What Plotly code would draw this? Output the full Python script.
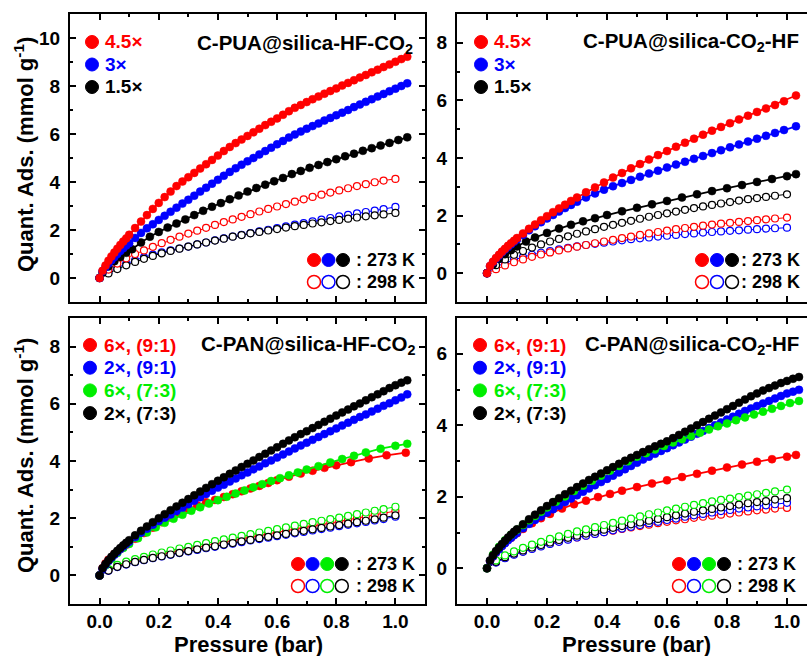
import plotly.graph_objects as go

W, H = 807, 656
FONT = "Liberation Sans"
RED, BLUE, GREEN, BLACK = "#FF0000", "#0000FF", "#00EE00", "#000000"

# ---------------- pressure grids (bar) ----------------
P_DENSE = [0.00, 0.01, 0.02, 0.03, 0.04, 0.05, 0.06, 0.07, 0.08, 0.09, 0.10,
           0.12, 0.14, 0.16, 0.18, 0.20, 0.22, 0.24, 0.26, 0.28, 0.30,
           0.32, 0.34, 0.36, 0.38, 0.40, 0.42, 0.44, 0.46, 0.48, 0.50,
           0.52, 0.54, 0.56, 0.58, 0.60, 0.62, 0.64, 0.66, 0.68, 0.70,
           0.72, 0.74, 0.76, 0.78, 0.80, 0.82, 0.84, 0.86, 0.88, 0.90,
           0.92, 0.94, 0.96, 0.98, 1.00, 1.02, 1.04]
P_OPEN = [0.00, 0.03, 0.06, 0.09, 0.12, 0.15, 0.18, 0.21, 0.24, 0.27, 0.30,
          0.33, 0.36, 0.39, 0.42, 0.45, 0.48, 0.51, 0.54, 0.57, 0.60, 0.63,
          0.66, 0.69, 0.72, 0.75, 0.78, 0.81, 0.84, 0.87, 0.90, 0.93, 0.96, 1.00]
P_MID = [0.00, 0.01, 0.03, 0.05, 0.07, 0.09, 0.11, 0.14, 0.17, 0.20, 0.23, 0.26,
         0.29, 0.32, 0.35, 0.38, 0.41, 0.44, 0.47, 0.50, 0.53, 0.56, 0.59, 0.62,
         0.65, 0.68, 0.71, 0.74, 0.77, 0.80, 0.83, 0.86, 0.89, 0.92, 0.95, 0.98,
         1.01, 1.04]
P_TR = [0.00, 0.01, 0.02, 0.03, 0.04, 0.05, 0.06, 0.07, 0.08, 0.09, 0.10,
        0.12, 0.14, 0.16, 0.18, 0.20, 0.22, 0.24, 0.26, 0.28, 0.30,
        0.33, 0.36, 0.39, 0.42, 0.45, 0.48, 0.51, 0.54, 0.57, 0.60, 0.63, 0.66,
        0.69, 0.72, 0.75, 0.78, 0.81, 0.84, 0.87, 0.90, 0.93, 0.96, 0.99, 1.03]
P_TRK = [0.00, 0.02, 0.04, 0.06, 0.08, 0.10, 0.13, 0.16, 0.20, 0.24, 0.28, 0.32,
         0.36, 0.40, 0.45, 0.50, 0.55, 0.60, 0.65, 0.70, 0.75, 0.80, 0.85, 0.90,
         0.95, 1.00, 1.03]
P_G = [0.00, 0.02, 0.04, 0.06, 0.08, 0.10, 0.13, 0.16, 0.19, 0.22, 0.25, 0.28,
       0.31, 0.34, 0.37, 0.40, 0.43, 0.46, 0.49, 0.52, 0.55, 0.58, 0.61, 0.64,
       0.67, 0.70, 0.74, 0.78, 0.82, 0.86, 0.90, 0.95, 1.00, 1.04]
P_R = [0.00, 0.01, 0.02, 0.03, 0.05, 0.07, 0.09, 0.12, 0.15, 0.18, 0.21, 0.24,
       0.27, 0.30, 0.33, 0.36, 0.39, 0.42, 0.45, 0.48, 0.51, 0.54, 0.57, 0.60,
       0.64, 0.68, 0.72, 0.76, 0.80, 0.85, 0.91, 0.97, 1.035]
P_G2 = [0.00, 0.02, 0.04, 0.06, 0.08, 0.10, 0.12, 0.14, 0.16, 0.18, 0.20, 0.23,
        0.26, 0.29, 0.32, 0.35, 0.38, 0.41, 0.44, 0.47, 0.50, 0.53, 0.56, 0.59,
        0.62, 0.65, 0.68, 0.71, 0.74, 0.77, 0.80, 0.83, 0.86, 0.89, 0.92, 0.95,
        0.98, 1.01, 1.04]
P_R2 = [0.00, 0.01, 0.02, 0.03, 0.04, 0.05, 0.06, 0.08, 0.10, 0.12, 0.15, 0.18,
        0.21, 0.25, 0.29, 0.33, 0.37, 0.41, 0.45, 0.50, 0.55, 0.60, 0.65, 0.70,
        0.75, 0.80, 0.85, 0.90, 0.95, 1.00, 1.03]

# ---------------- C-PUA@silica-HF-CO2 (top left) ----------------
TL_RED_273 = [0.00, 0.30, 0.52, 0.72, 0.90, 1.06, 1.22, 1.38, 1.52, 1.65, 1.80,
              2.08, 2.35, 2.62, 2.88, 3.13, 3.37, 3.60, 3.83, 4.02, 4.20,
              4.38, 4.56, 4.74, 4.92, 5.10, 5.29, 5.46, 5.62, 5.77, 5.92,
              6.07, 6.22, 6.37, 6.51, 6.65, 6.80, 6.95, 7.09, 7.21, 7.33,
              7.45, 7.56, 7.68, 7.79, 7.90, 8.02, 8.13, 8.24, 8.35, 8.46,
              8.57, 8.68, 8.79, 8.90, 9.01, 9.12, 9.22]
TL_BLUE_273 = [0.00, 0.28, 0.45, 0.60, 0.74, 0.87, 1.00, 1.13, 1.24, 1.35, 1.45,
               1.67, 1.88, 2.07, 2.24, 2.42, 2.59, 2.76, 2.93, 3.10, 3.26,
               3.43, 3.60, 3.76, 3.93, 4.09, 4.26, 4.42, 4.57, 4.72, 4.86,
               5.00, 5.15, 5.29, 5.43, 5.57, 5.71, 5.85, 5.98, 6.10, 6.22,
               6.33, 6.44, 6.56, 6.67, 6.78, 6.89, 7.00, 7.12, 7.23, 7.34,
               7.45, 7.56, 7.67, 7.78, 7.89, 8.00, 8.11]
TL_BLACK_273 = [0.00, 0.22, 0.48, 0.70, 0.88, 1.05, 1.20, 1.48, 1.72, 1.92, 2.10,
                2.27, 2.44, 2.62, 2.80, 2.97, 3.12, 3.28, 3.44, 3.60, 3.75, 3.89,
                4.03, 4.17, 4.33, 4.46, 4.59, 4.71, 4.83, 4.95, 5.07, 5.18, 5.30,
                5.41, 5.52, 5.63, 5.75, 5.86]
TL_RED_298 = [0.00, 0.35, 0.60, 0.82, 1.00, 1.15, 1.30, 1.45, 1.59, 1.72, 1.85,
              1.97, 2.09, 2.21, 2.33, 2.44, 2.55, 2.66, 2.77, 2.88, 2.98, 3.08,
              3.18, 3.28, 3.38, 3.47, 3.56, 3.65, 3.74, 3.83, 3.91, 3.99, 4.06, 4.13]
TL_BLUE_298 = [0.00, 0.24, 0.43, 0.60, 0.74, 0.86, 0.97, 1.07, 1.15, 1.23, 1.31,
               1.40, 1.48, 1.57, 1.65, 1.73, 1.80, 1.87, 1.94, 2.01, 2.08, 2.15,
               2.22, 2.29, 2.36, 2.43, 2.50, 2.57, 2.63, 2.69, 2.75, 2.81, 2.87, 2.96]
TL_BLACK_298 = [0.00, 0.19, 0.37, 0.53, 0.67, 0.80, 0.92, 1.03, 1.13, 1.22, 1.31,
                1.40, 1.48, 1.56, 1.64, 1.72, 1.79, 1.86, 1.92, 1.98, 2.04, 2.10,
                2.16, 2.21, 2.27, 2.32, 2.37, 2.42, 2.47, 2.52, 2.57, 2.61, 2.65, 2.71]

# ---------------- C-PUA@silica-CO2-HF (top right) ----------------
TR_RED_273 = [0.00, 0.25, 0.40, 0.53, 0.64, 0.75, 0.85, 0.95, 1.04, 1.13, 1.22,
              1.38, 1.54, 1.69, 1.84, 1.98, 2.12, 2.25, 2.38, 2.51, 2.63,
              2.81, 2.98, 3.15, 3.32, 3.48, 3.64, 3.79, 3.95, 4.10, 4.24, 4.39,
              4.53, 4.67, 4.81, 4.95, 5.08, 5.21, 5.34, 5.47, 5.60, 5.72, 5.84,
              5.97, 6.17]
TR_BLUE_273 = [0.00, 0.24, 0.38, 0.50, 0.61, 0.72, 0.82, 0.91, 1.00, 1.09, 1.17,
               1.33, 1.49, 1.63, 1.77, 1.90, 2.02, 2.14, 2.26, 2.37, 2.48,
               2.63, 2.77, 2.90, 3.02, 3.13, 3.24, 3.35, 3.46, 3.56, 3.67, 3.77,
               3.87, 3.97, 4.07, 4.17, 4.27, 4.37, 4.47, 4.57, 4.67, 4.77, 4.87,
               4.97, 5.10]
TR_BLACK_273 = [0.00, 0.30, 0.50, 0.66, 0.80, 0.93, 1.10, 1.24, 1.40, 1.55, 1.68,
                1.80, 1.91, 2.02, 2.15, 2.27, 2.39, 2.51, 2.63, 2.74, 2.85, 2.95,
                3.06, 3.17, 3.27, 3.37, 3.44]
TR_RED_298 = [0.00, 0.14, 0.27, 0.38, 0.48, 0.57, 0.65, 0.72, 0.79, 0.86, 0.92,
              0.98, 1.04, 1.10, 1.16, 1.22, 1.27, 1.33, 1.38, 1.43, 1.48, 1.53,
              1.57, 1.61, 1.65, 1.69, 1.72, 1.75, 1.78, 1.81, 1.84, 1.87, 1.90, 1.93]
TR_BLUE_298 = [0.00, 0.22, 0.36, 0.47, 0.56, 0.64, 0.71, 0.77, 0.83, 0.88, 0.93,
               0.98, 1.02, 1.06, 1.10, 1.14, 1.18, 1.21, 1.24, 1.27, 1.30, 1.33,
               1.36, 1.38, 1.41, 1.43, 1.45, 1.47, 1.49, 1.51, 1.53, 1.55, 1.56, 1.58]
TR_BLACK_298 = [0.00, 0.28, 0.48, 0.64, 0.77, 0.89, 1.00, 1.10, 1.19, 1.28, 1.37,
                1.45, 1.53, 1.61, 1.68, 1.75, 1.82, 1.89, 1.96, 2.02, 2.08, 2.14,
                2.20, 2.26, 2.32, 2.37, 2.42, 2.47, 2.52, 2.57, 2.61, 2.65, 2.69, 2.74]

# ---------------- C-PAN@silica-HF-CO2 (bottom left) ----------------
BL_RED_273 = [0.00, 0.25, 0.42, 0.55, 0.75, 0.92, 1.07, 1.28, 1.48, 1.67, 1.86,
              2.03, 2.18, 2.32, 2.45, 2.56, 2.64, 2.74, 2.84, 2.94, 3.04, 3.13,
              3.23, 3.33, 3.45, 3.56, 3.66, 3.76, 3.85, 3.96, 4.09, 4.20, 4.29]
BL_BLUE_273 = [0.00, 0.22, 0.37, 0.50, 0.62, 0.72, 0.82, 0.92, 1.01, 1.10, 1.18,
               1.34, 1.49, 1.63, 1.77, 1.90, 2.02, 2.13, 2.25, 2.37, 2.49,
               2.61, 2.73, 2.85, 2.96, 3.07, 3.17, 3.28, 3.39, 3.50, 3.60,
               3.71, 3.81, 3.92, 4.02, 4.12, 4.23, 4.33, 4.44, 4.54, 4.64,
               4.74, 4.84, 4.94, 5.04, 5.14, 5.24, 5.34, 5.44, 5.54, 5.63,
               5.73, 5.83, 5.93, 6.02, 6.12, 6.22, 6.33]
BL_GREEN_273 = [0.00, 0.35, 0.58, 0.78, 0.96, 1.10, 1.30, 1.50, 1.68, 1.84, 1.98,
                2.12, 2.26, 2.38, 2.51, 2.63, 2.75, 2.86, 2.97, 3.08, 3.19, 3.30,
                3.40, 3.50, 3.60, 3.70, 3.82, 3.95, 4.07, 4.18, 4.30, 4.43, 4.53, 4.60]
BL_BLACK_273 = [0.00, 0.25, 0.40, 0.53, 0.65, 0.76, 0.86, 0.96, 1.05, 1.14, 1.23,
                1.40, 1.56, 1.71, 1.86, 2.00, 2.14, 2.28, 2.41, 2.54, 2.67,
                2.80, 2.93, 3.06, 3.19, 3.31, 3.43, 3.55, 3.67, 3.79, 3.90,
                4.02, 4.14, 4.25, 4.37, 4.48, 4.60, 4.72, 4.83, 4.94, 5.04,
                5.15, 5.26, 5.37, 5.48, 5.59, 5.70, 5.80, 5.91, 6.01, 6.12,
                6.23, 6.33, 6.44, 6.55, 6.65, 6.74, 6.82]
BL_RED_298 = [0.00, 0.20, 0.34, 0.44, 0.53, 0.61, 0.68, 0.75, 0.81, 0.87, 0.93,
              0.99, 1.05, 1.11, 1.17, 1.23, 1.28, 1.34, 1.40, 1.45, 1.51, 1.56,
              1.62, 1.67, 1.73, 1.78, 1.83, 1.89, 1.94, 2.00, 2.05, 2.11, 2.17, 2.25]
BL_BLUE_298 = [0.00, 0.16, 0.29, 0.38, 0.46, 0.53, 0.60, 0.66, 0.72, 0.78, 0.84,
               0.89, 0.95, 1.00, 1.06, 1.11, 1.16, 1.22, 1.27, 1.32, 1.37, 1.42,
               1.47, 1.52, 1.57, 1.62, 1.67, 1.72, 1.77, 1.82, 1.87, 1.92, 1.97, 2.05]
BL_GREEN_298 = [0.00, 0.22, 0.37, 0.48, 0.57, 0.65, 0.73, 0.80, 0.87, 0.94, 1.00,
                1.07, 1.13, 1.20, 1.26, 1.32, 1.38, 1.44, 1.50, 1.56, 1.62, 1.68,
                1.74, 1.80, 1.86, 1.91, 1.97, 2.02, 2.08, 2.14, 2.20, 2.26, 2.32, 2.40]
BL_BLACK_298 = [0.00, 0.17, 0.30, 0.39, 0.47, 0.54, 0.61, 0.67, 0.73, 0.79, 0.85,
                0.91, 0.97, 1.02, 1.08, 1.13, 1.19, 1.24, 1.30, 1.35, 1.40, 1.45,
                1.50, 1.56, 1.61, 1.66, 1.71, 1.76, 1.81, 1.86, 1.91, 1.96, 2.02, 2.10]

# ---------------- C-PAN@silica-CO2-HF (bottom right) ----------------
BR_RED_273 = [0.00, 0.20, 0.33, 0.44, 0.54, 0.63, 0.71, 0.85, 0.98, 1.10, 1.26,
              1.40, 1.52, 1.67, 1.79, 1.89, 1.99, 2.08, 2.17, 2.27, 2.37, 2.46,
              2.55, 2.64, 2.73, 2.82, 2.90, 2.98, 3.05, 3.12, 3.17]
BR_BLUE_273 = [0.00, 0.20, 0.33, 0.44, 0.53, 0.62, 0.70, 0.78, 0.85, 0.92, 0.99,
               1.12, 1.24, 1.35, 1.45, 1.55, 1.65, 1.75, 1.85, 1.95, 2.04,
               2.14, 2.23, 2.32, 2.41, 2.50, 2.59, 2.68, 2.77, 2.86, 2.95,
               3.04, 3.12, 3.20, 3.28, 3.36, 3.44, 3.52, 3.60, 3.68, 3.76,
               3.84, 3.92, 4.00, 4.08, 4.16, 4.24, 4.32, 4.40, 4.47, 4.54,
               4.61, 4.68, 4.75, 4.82, 4.89, 4.94, 4.99]
BR_GREEN_273 = [0.00, 0.38, 0.60, 0.78, 0.94, 1.08, 1.21, 1.34, 1.46, 1.58, 1.70,
                1.86, 2.01, 2.16, 2.31, 2.45, 2.59, 2.73, 2.86, 2.99, 3.12, 3.22,
                3.32, 3.42, 3.52, 3.61, 3.70, 3.79, 3.88, 3.97, 4.05, 4.14, 4.22,
                4.30, 4.38, 4.46, 4.54, 4.62, 4.68]
BR_BLACK_273 = [0.00, 0.22, 0.36, 0.48, 0.58, 0.68, 0.77, 0.86, 0.94, 1.02, 1.09,
                1.23, 1.37, 1.50, 1.62, 1.74, 1.85, 1.96, 2.07, 2.17, 2.27,
                2.37, 2.47, 2.56, 2.65, 2.74, 2.83, 2.92, 3.01, 3.09, 3.17,
                3.25, 3.33, 3.41, 3.48, 3.55, 3.64, 3.73, 3.82, 3.91, 4.00,
                4.09, 4.18, 4.27, 4.36, 4.45, 4.54, 4.63, 4.72, 4.81, 4.89,
                4.97, 5.04, 5.11, 5.18, 5.24, 5.30, 5.35]
BR_RED_298 = [0.00, 0.17, 0.29, 0.39, 0.47, 0.55, 0.62, 0.69, 0.75, 0.81, 0.86,
              0.91, 0.96, 1.01, 1.05, 1.10, 1.14, 1.18, 1.22, 1.26, 1.30, 1.34,
              1.37, 1.41, 1.44, 1.47, 1.50, 1.53, 1.56, 1.59, 1.62, 1.64, 1.67, 1.69]
BR_BLUE_298 = [0.00, 0.16, 0.28, 0.38, 0.46, 0.54, 0.61, 0.68, 0.74, 0.80, 0.86,
               0.91, 0.96, 1.01, 1.06, 1.11, 1.16, 1.21, 1.26, 1.30, 1.35, 1.39,
               1.44, 1.48, 1.52, 1.56, 1.60, 1.63, 1.67, 1.70, 1.73, 1.76, 1.79, 1.83]
BR_GREEN_298 = [0.00, 0.22, 0.36, 0.47, 0.57, 0.66, 0.74, 0.82, 0.89, 0.96, 1.03,
                1.09, 1.15, 1.21, 1.27, 1.33, 1.39, 1.45, 1.51, 1.56, 1.62, 1.67,
                1.72, 1.77, 1.82, 1.87, 1.91, 1.95, 1.99, 2.03, 2.07, 2.11, 2.15, 2.20]
BR_BLACK_298 = [0.00, 0.18, 0.31, 0.41, 0.50, 0.58, 0.65, 0.72, 0.79, 0.85, 0.91,
                0.97, 1.02, 1.08, 1.13, 1.18, 1.23, 1.28, 1.33, 1.38, 1.43, 1.48,
                1.53, 1.58, 1.62, 1.66, 1.70, 1.74, 1.78, 1.82, 1.85, 1.88, 1.92, 1.96]

# ---------------- labels ----------------
TITLES = ["C-PUA@silica-HF-CO<sub>2</sub>", "C-PUA@silica-CO<sub>2</sub>-HF",
          "C-PAN@silica-HF-CO<sub>2</sub>", "C-PAN@silica-CO<sub>2</sub>-HF"]
PUA_LABELS = ["4.5×", "3×", "1.5×"]
PUA_COLORS = [RED, BLUE, BLACK]
PAN_LABELS = ["6×, (9:1)", "2×, (9:1)", "6×, (7:3)", "2×, (7:3)"]
PAN_COLORS = [RED, BLUE, GREEN, BLACK]
X_TICKS = [0.0, 0.2, 0.4, 0.6, 0.8, 1.0]
X_TITLE = "Pressure (bar)"
Y_TITLE = "Quant. Ads. (mmol g<sup>-1</sup>)"

fig = go.Figure()


def add_series(ax, P, Q, color, filled):
    assert len(P) == len(Q), (len(P), len(Q))
    xa, ya = ("x", "y") if ax == 1 else (f"x{ax}", f"y{ax}")
    if filled:
        mk = dict(color=color, size=8, line=dict(color=color, width=0.5))
        ln = dict(color=color, width=1.8)
    else:
        mk = dict(color="white", size=7, line=dict(color=color, width=1.2))
        ln = dict(color=color, width=1.0)
    fig.add_trace(go.Scatter(x=P, y=Q, xaxis=xa, yaxis=ya, mode="lines+markers",
                             marker=mk, line=ln, showlegend=False, hoverinfo="skip"))


# open (298 K) first, filled (273 K) on top
add_series(1, P_OPEN, TL_BLUE_298, BLUE, False)
add_series(1, P_OPEN, TL_BLACK_298, BLACK, False)
add_series(1, P_OPEN, TL_RED_298, RED, False)
add_series(1, P_MID, TL_BLACK_273, BLACK, True)
add_series(1, P_DENSE, TL_BLUE_273, BLUE, True)
add_series(1, P_DENSE, TL_RED_273, RED, True)

add_series(2, P_OPEN, TR_BLUE_298, BLUE, False)
add_series(2, P_OPEN, TR_RED_298, RED, False)
add_series(2, P_OPEN, TR_BLACK_298, BLACK, False)
add_series(2, P_TRK, TR_BLACK_273, BLACK, True)
add_series(2, P_TR, TR_BLUE_273, BLUE, True)
add_series(2, P_TR, TR_RED_273, RED, True)

add_series(3, P_OPEN, BL_BLUE_298, BLUE, False)
add_series(3, P_OPEN, BL_RED_298, RED, False)
add_series(3, P_OPEN, BL_GREEN_298, GREEN, False)
add_series(3, P_OPEN, BL_BLACK_298, BLACK, False)
add_series(3, P_R, BL_RED_273, RED, True)
add_series(3, P_G, BL_GREEN_273, GREEN, True)
add_series(3, P_DENSE, BL_BLUE_273, BLUE, True)
add_series(3, P_DENSE, BL_BLACK_273, BLACK, True)

add_series(4, P_OPEN, BR_RED_298, RED, False)
add_series(4, P_OPEN, BR_BLUE_298, BLUE, False)
add_series(4, P_OPEN, BR_BLACK_298, BLACK, False)
add_series(4, P_OPEN, BR_GREEN_298, GREEN, False)
add_series(4, P_R2, BR_RED_273, RED, True)
add_series(4, P_DENSE, BR_BLUE_273, BLUE, True)
add_series(4, P_G2, BR_GREEN_273, GREEN, True)
add_series(4, P_DENSE, BR_BLACK_273, BLACK, True)

# empty carrier traces so the label-only x axes (x5, x6) get drawn
for xa, ya in (("x5", "y3"), ("x6", "y4")):
    fig.add_trace(go.Scatter(x=[0.5], y=[None], xaxis=xa, yaxis=ya, mode="markers",
                             showlegend=False, hoverinfo="skip"))

# ---------------- axes ----------------
TICKFONT = dict(family=FONT, size=19, color="black", weight="bold")
XL = [70 / W, 425 / W]
XR = [457 / W, 1.0]
YT = [1 - 302 / H, 1 - 14 / H]
YB = [1 - 604 / H, 1 - 318 / H]
LABEL_AXIS_Y = 1 - 608 / H   # free axis that only carries the x tick labels


def xaxis(dom, anchor, rng):
    return dict(domain=dom, anchor=anchor, range=rng, showline=True, linecolor="black",
                linewidth=2, mirror="ticks", ticks="inside", ticklen=6, tickwidth=2,
                tickcolor="black", tickvals=X_TICKS, showticklabels=False,
                showgrid=False, zeroline=False, automargin=False,
                minor=dict(ticks="inside", ticklen=3, tickwidth=1.5, dtick=0.1,
                           tick0=0, tickcolor="black", showgrid=False))


def xlabels(over, dom, rng):
    return dict(overlaying=over, domain=dom, anchor="free", position=LABEL_AXIS_Y,
                range=rng, showline=False, ticks="", tickvals=X_TICKS, tickformat=".1f",
                showticklabels=True, tickfont=TICKFONT, showgrid=False,
                zeroline=False, automargin=False, side="bottom")


def yaxis(dom, anchor, rng, mirror):
    return dict(domain=dom, anchor=anchor, range=rng, showline=True, linecolor="black",
                linewidth=2, mirror=mirror, ticks="inside", ticklen=6, tickwidth=2,
                tickcolor="black", dtick=2, tick0=0, tickfont=TICKFONT, showgrid=False,
                zeroline=False, ticklabelstandoff=4, automargin=False,
                minor=dict(ticks="inside", ticklen=3, tickwidth=1.5, dtick=1,
                           tick0=0, tickcolor="black", showgrid=False))


RX_L = [-0.1, 1.1]
RX_R = [-0.1, 1.0667]
fig.update_layout(
    width=W, height=H, margin=dict(l=0, r=0, t=0, b=0),
    paper_bgcolor="white", plot_bgcolor="white", showlegend=False,
    xaxis=xaxis(XL, "y", RX_L),
    yaxis=yaxis(YT, "x", [-1, 11], "ticks"),
    xaxis2=xaxis(XR, "y2", RX_R),
    yaxis2=yaxis(YT, "x2", [-1, 9], False),
    xaxis3=xaxis(XL, "y3", RX_L),
    yaxis3=yaxis(YB, "x3", [-1, 9], "ticks"),
    xaxis4=xaxis(XR, "y4", RX_R),
    yaxis4=yaxis(YB, "x4", [-1, 7], False),
    xaxis5=xlabels("x3", XL, RX_L),
    xaxis6=xlabels("x4", XR, RX_R),
)


def ann(text, px, py, size=19, color="black", xanchor="left", angle=0):
    fig.add_annotation(x=px / W, y=1 - py / H, xref="paper", yref="paper",
                       text=f"<b>{text}</b>", showarrow=False, textangle=angle,
                       font=dict(family=FONT, size=size, color=color),
                       xanchor=xanchor, yanchor="middle", borderpad=0)


def dot(px, py, color, filled, r=6.5):
    fig.add_shape(type="circle", xref="paper", yref="paper", xsizemode="pixel",
                  ysizemode="pixel", xanchor=px / W, yanchor=1 - py / H,
                  x0=-r, x1=r, y0=-r, y1=r,
                  fillcolor=color if filled else "white",
                  line=dict(color=color, width=1 if filled else 1.5))


# panel titles
ann(TITLES[0], 414, 44, size=20.5, xanchor="right")
ann(TITLES[1], 800, 42, size=20.5, xanchor="right")
ann(TITLES[2], 416, 345, size=20.5, xanchor="right")
ann(TITLES[3], 800, 345, size=20.5, xanchor="right")

# sample legends
for i, (lab, c) in enumerate(zip(PUA_LABELS, PUA_COLORS)):
    y = 42 + i * 22.5
    dot(92, y, c, True)
    ann(lab, 104, y, color=c)
    dot(481, y, c, True)
    ann(lab, 493, y, color=c)
for i, (lab, c) in enumerate(zip(PAN_LABELS, PAN_COLORS)):
    y = 345 + i * 22.7
    dot(90, y, c, True)
    ann(lab, 103, y, color=c)
    dot(480, y, c, True)
    ann(lab, 493, y, color=c)

# temperature legends
for j, c in enumerate(PUA_COLORS):
    for x0, step in ((314, 14.5), (702, 15)):
        dot(x0 + j * step, 260, c, True)
        dot(x0 + j * step, 282, c, False)
for j, c in enumerate(PAN_COLORS):
    for x0, step in ((298, 14.6), (679, 15)):
        dot(x0 + j * step, 564, c, True)
        dot(x0 + j * step, 586, c, False)
for xr, (y1, y2) in ((416, (260, 282)), (801, (260, 282)),
                     (416, (564, 586)), (797, (564, 586))):
    ann(": 273 K", xr, y1, size=18, xanchor="right")
    ann(": 298 K", xr, y2, size=18, xanchor="right")

# axis titles
ann(Y_TITLE, 24, 155, size=22, xanchor="center", angle=-90)
ann(Y_TITLE, 24, 456, size=22, xanchor="center", angle=-90)
ann(X_TITLE, 248, 644, size=22, xanchor="center")
ann(X_TITLE, 636, 644, size=22, xanchor="center")

fig.write_html("out.html")
